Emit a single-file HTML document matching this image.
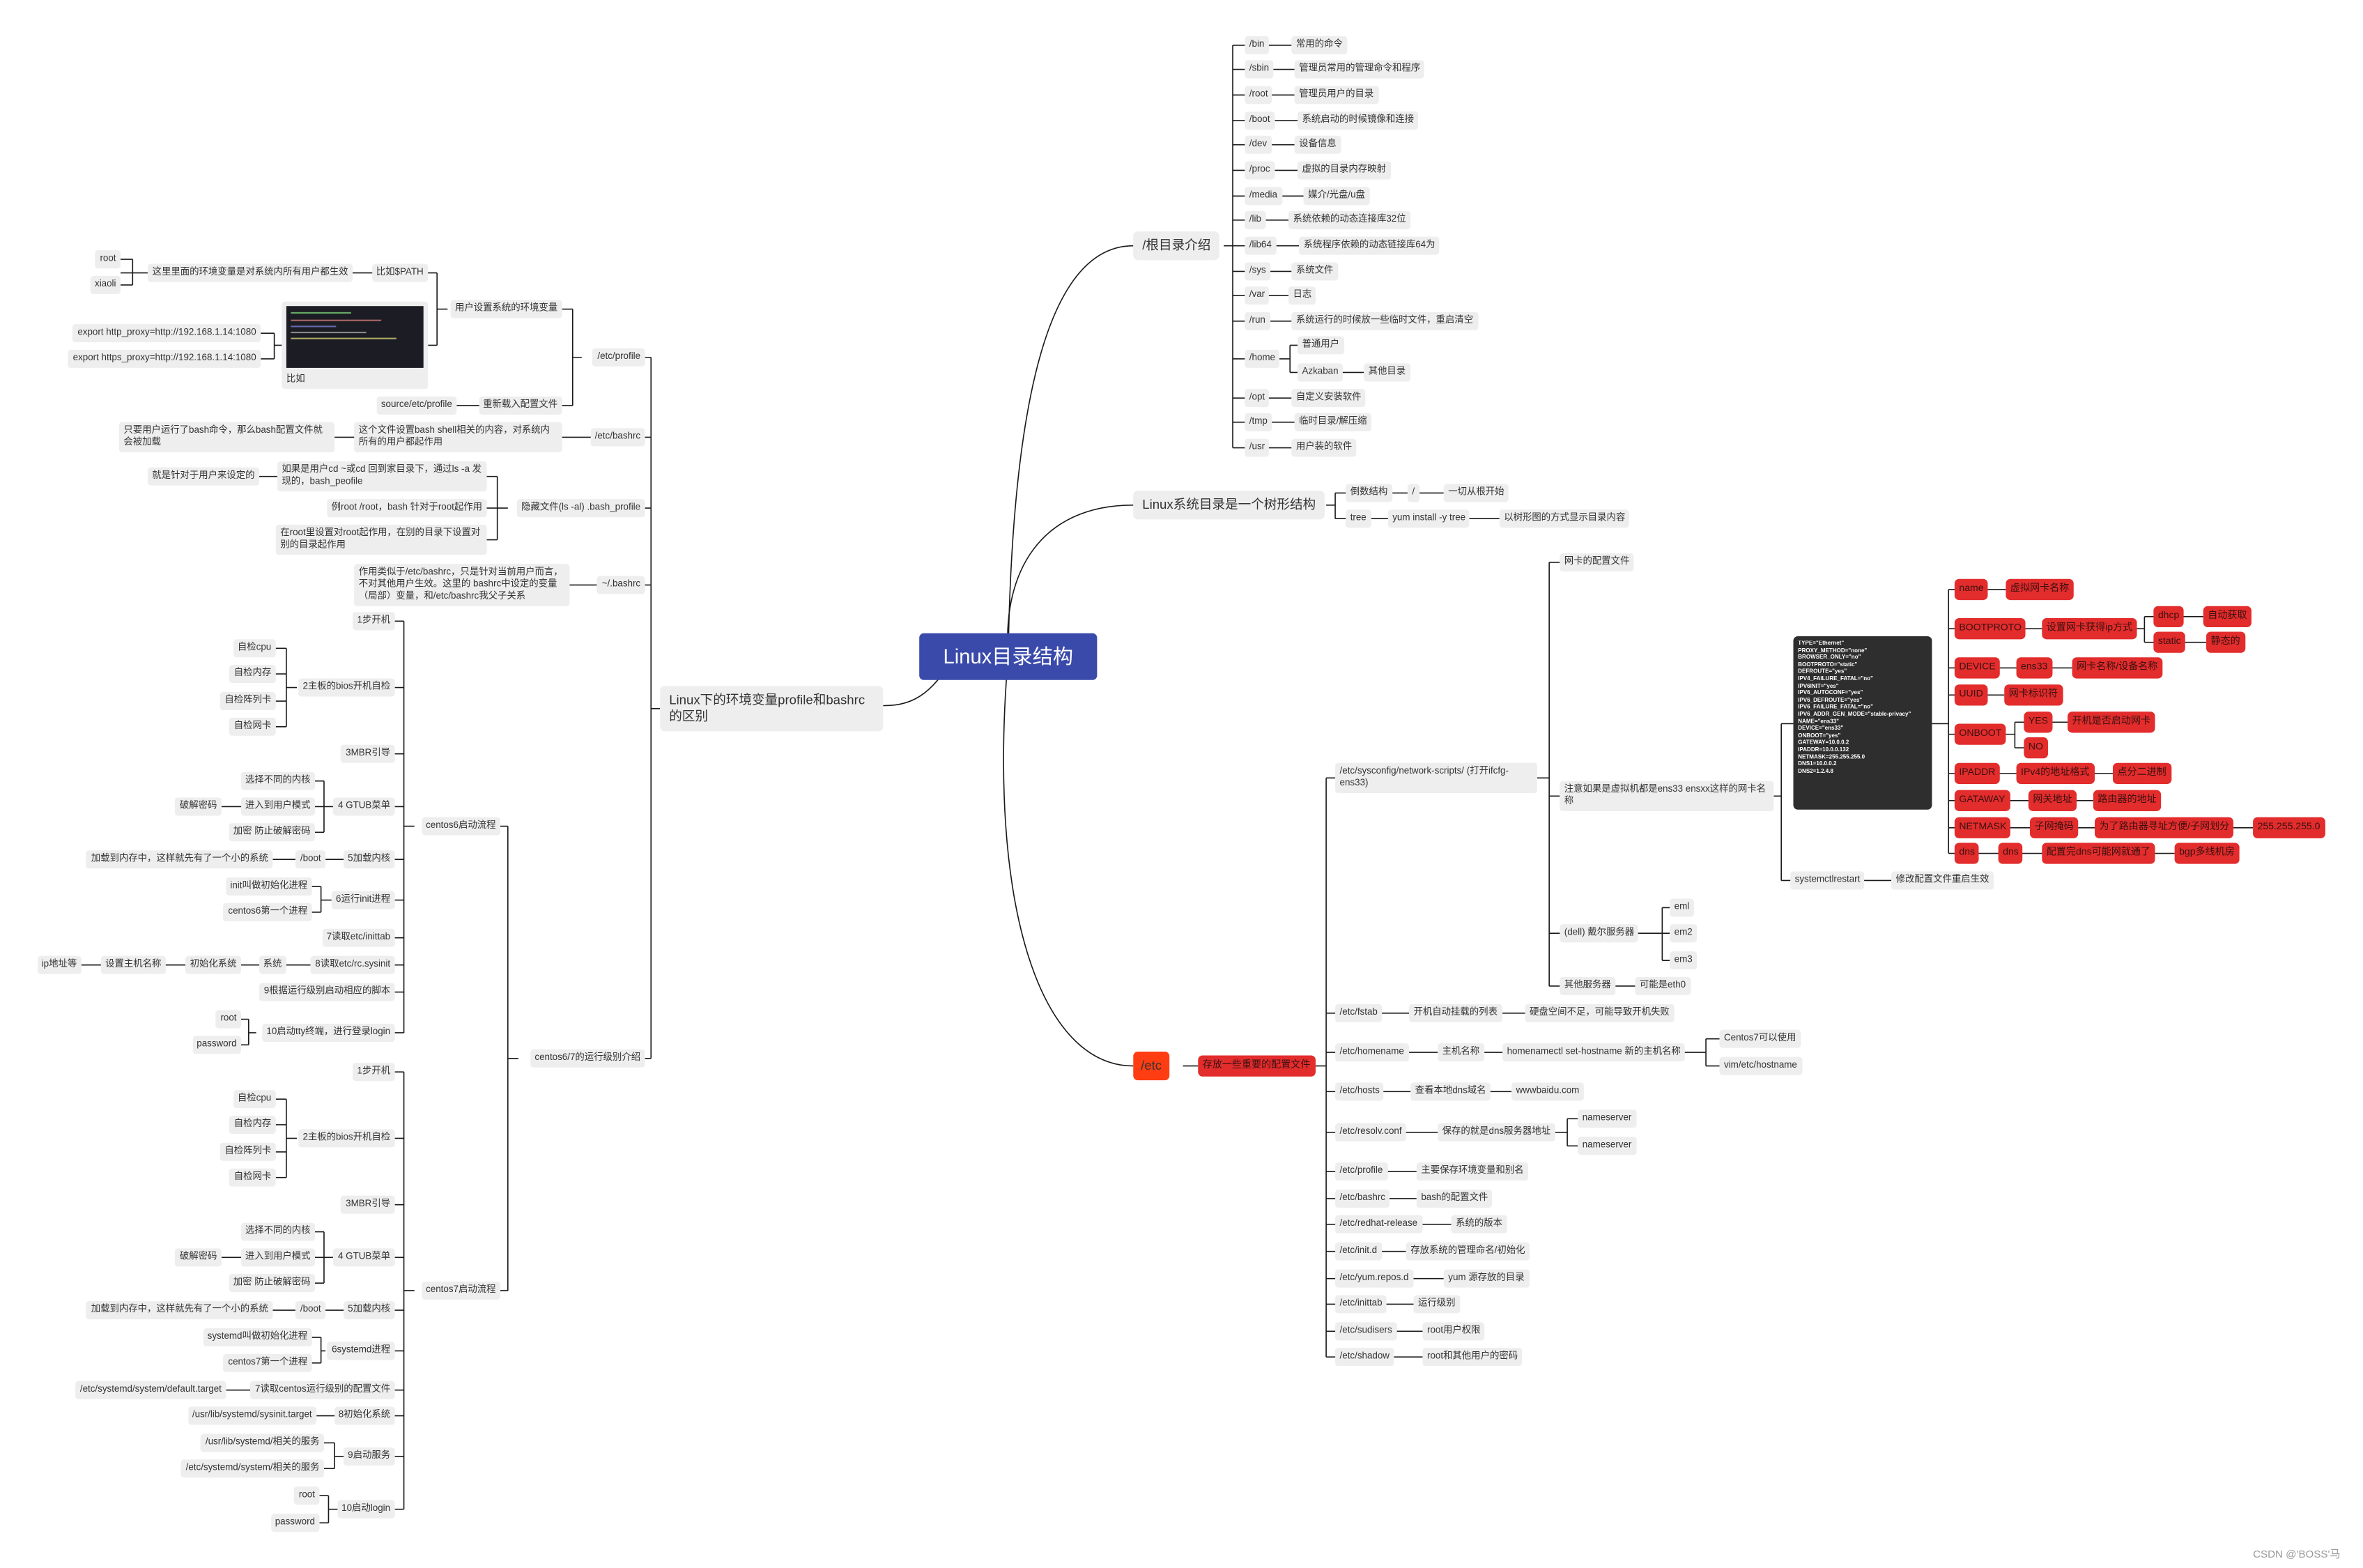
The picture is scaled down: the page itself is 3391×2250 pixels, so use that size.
<!DOCTYPE html>
<html><head><meta charset="utf-8">
<style>
html,body{margin:0;padding:0;background:#fff;width:3391px;height:2250px;overflow:hidden}
#c{position:absolute;left:0;top:0;width:1568px;height:1040px;transform:scale(2.1626,2.1635);transform-origin:0 0;font-family:"Liberation Sans","Noto Sans CJK SC",sans-serif}
.n{position:absolute;transform:translateY(-50%);white-space:nowrap;font-size:6.2px;line-height:8px;padding:2px 3px;border-radius:2px;color:#333}
.g{background:#eeeeee}
.r{background:#e32c2c;color:#3a1010;padding:3px 3px;border-radius:3px;font-size:6.5px}
.t{background:transparent}
.b{font-size:8.6px;line-height:11px;padding:4px 6px;border-radius:3px;background:#eeeeee;color:#333}
svg{position:absolute;left:0;top:0}
path{fill:none;stroke:#1a1a1a;stroke-width:0.75}
</style></head><body>
<div id="c">
<svg width="1568" height="1040" viewBox="0 0 1568 1040">
<path d="M669 435 C672 250,700 163,752 163"/>
<path d="M669 435 C665 380,690 335,752 335"/>
<path d="M669 435 C655 600,690 707,752 707"/>
<path d="M630 440 C615 465,600 468,586 468"/>
<path d="M812 163 H818 M818 30 V297 M818 30 H857 M818 46 H859 M818 63 H859 M818 80 H861 M818 96 H859 M818 113 H861 M818 130 H865 M818 146 H855 M818 163 H862 M818 180 H857 M818 196 H855 M818 213 H857 M818 238 H856 M856 229 V247 M856 229 H861 M856 247 H905 M818 264 H857 M818 280 H859 M818 297 H857"/>
<path d="M880 335 H886 M886 327 V344 M886 327 H958 M886 344 H995"/>
<path d="M785 707 H795 M873 707 H880 M880 516 V900 M880 516 H886 M880 672 H1012 M880 698 H1132 M1132 689 V707 M1132 689 H1141 M1132 707 H1141 M880 724 H1003 M880 751 H1040 M1040 742 V760 M1040 742 H1047 M1040 760 H1047 M880 777 H940 M880 795 H940 M880 812 H963 M880 830 H933 M880 848 H958 M880 865 H938 M880 883 H944 M880 900 H944"/>
<path d="M1020 516 H1028 M1028 373 V654 M1028 373 H1035 M1028 528 H1035 M1028 619 H1103 M1103 602 V637 M1103 602 H1108 M1103 619 H1108 M1103 637 H1108 M1028 654 H1085"/>
<path d="M1177 528 H1182 M1182 480 V584 M1182 480 H1190 M1182 584 H1255"/>
<path d="M1282 480 H1293 M1293 391 V566 M1293 391 H1331 M1293 417 H1423 M1423 409 V426 M1423 409 H1462 M1423 426 H1464 M1293 443 H1375 M1293 461 H1330 M1293 487 H1337 M1337 479 V496 M1337 479 H1372 M1337 496 H1343 M1293 513 H1402 M1293 531 H1389 M1293 549 H1495 M1293 566 H1443"/>
<path d="M438 470 H432 M432 237 V702 M432 237 H428 M432 290 H222 M432 337 H428 M432 388 H378 M432 702 H428"/>
<path d="M386 237 H380 M380 205 V269 M380 205 H373 M380 269 H303 M297 205 H290 M290 181 V229 M290 181 H80 M88 172 V189 M88 172 H80 M88 189 H80 M290 229 H284 M187 229 H182 M182 221 V238 M182 221 H173 M182 238 H173"/>
<path d="M337 337 H330 M330 316 V358 M330 316 H172 M330 337 H323 M330 358 H323"/>
<path d="M344 702 H337 M337 548 V856 M337 548 H332 M337 856 H332"/>
<path d="M275 548 H268 M268 412 V685 M268 412 H262 M268 456 H262 M268 500 H262 M268 535 H262 M268 570 H181 M268 597 H262 M268 622 H262 M268 640 H54 M268 658 H262 M268 685 H262 M197 456 H190 M190 430 V482 M190 430 H183 M190 447 H183 M190 465 H183 M190 482 H183 M222 535 H215 M215 518 V552 M215 518 H209 M215 535 H147 M215 552 H209 M220 597 H213 M213 588 V605 M213 588 H207 M213 605 H207 M170 685 H165 M165 676 V693 M165 676 H160 M165 693 H160"/>
<path d="M275 856 H268 M268 711 V1001 M268 711 H262 M268 755 H262 M268 799 H262 M268 834 H262 M268 869 H181 M268 896 H262 M268 922 H150 M268 939 H210 M268 966 H262 M268 1001 H262 M197 755 H190 M190 729 V781 M190 729 H183 M190 746 H183 M190 764 H183 M190 781 H183 M222 834 H215 M215 817 V851 M215 817 H209 M215 834 H147 M215 851 H209 M216 896 H213 M213 887 V904 M213 887 H207 M213 904 H207 M229 966 H222 M222 957 V974 M222 957 H215 M222 974 H215 M225 1001 H218 M218 992 V1010 M218 992 H212 M218 1010 H212"/>
</svg>

<div style="position:absolute;left:610px;top:420px;width:118px;height:31px;background:#3a4aab;border-radius:3px;color:#fff;font-size:13.5px;line-height:31px;text-align:center">Linux目录结构</div>

<div class="n b" style="left:752px;top:163px">/根目录介绍</div>
<div class="n b" style="left:752px;top:335px">Linux系统目录是一个树形结构</div>
<div class="n b" style="left:438px;top:470px;width:136px;white-space:normal">Linux下的环境变量profile和bashrc的区别</div>
<div class="n" style="left:752px;top:707px;background:#ff3d12;font-size:8.6px;line-height:11px;padding:4px 5px;border-radius:3px">/etc</div>
<div class="n r" style="left:795px;top:707px">存放一些重要的配置文件</div>

<div class="n g" style="left:826px;top:30px">/bin</div><div class="n g" style="left:857px;top:30px">常用的命令</div>
<div class="n g" style="left:826px;top:46px">/sbin</div><div class="n g" style="left:859px;top:46px">管理员常用的管理命令和程序</div>
<div class="n g" style="left:826px;top:63px">/root</div><div class="n g" style="left:859px;top:63px">管理员用户的目录</div>
<div class="n g" style="left:826px;top:80px">/boot</div><div class="n g" style="left:861px;top:80px">系统启动的时候镜像和连接</div>
<div class="n g" style="left:826px;top:96px">/dev</div><div class="n g" style="left:859px;top:96px">设备信息</div>
<div class="n g" style="left:826px;top:113px">/proc</div><div class="n g" style="left:861px;top:113px">虚拟的目录内存映射</div>
<div class="n g" style="left:826px;top:130px">/media</div><div class="n g" style="left:865px;top:130px">媒介/光盘/u盘</div>
<div class="n g" style="left:826px;top:146px">/lib</div><div class="n g" style="left:855px;top:146px">系统依赖的动态连接库32位</div>
<div class="n g" style="left:826px;top:163px">/lib64</div><div class="n g" style="left:862px;top:163px">系统程序依赖的动态链接库64为</div>
<div class="n g" style="left:826px;top:180px">/sys</div><div class="n g" style="left:857px;top:180px">系统文件</div>
<div class="n g" style="left:826px;top:196px">/var</div><div class="n g" style="left:855px;top:196px">日志</div>
<div class="n g" style="left:826px;top:213px">/run</div><div class="n g" style="left:857px;top:213px">系统运行的时候放一些临时文件，重启清空</div>
<div class="n g" style="left:826px;top:238px">/home</div><div class="n g" style="left:861px;top:229px">普通用户</div><div class="n g" style="left:861px;top:247px">Azkaban</div><div class="n g" style="left:905px;top:247px">其他目录</div>
<div class="n g" style="left:826px;top:264px">/opt</div><div class="n g" style="left:857px;top:264px">自定义安装软件</div>
<div class="n g" style="left:826px;top:280px">/tmp</div><div class="n g" style="left:859px;top:280px">临时目录/解压缩</div>
<div class="n g" style="left:826px;top:297px">/usr</div><div class="n g" style="left:857px;top:297px">用户装的软件</div>

<div class="n g" style="left:893px;top:327px">倒数结构</div><div class="n g" style="left:934px;top:327px">/</div><div class="n g" style="left:958px;top:327px">一切从根开始</div>
<div class="n g" style="left:893px;top:344px">tree</div><div class="n g" style="left:921px;top:344px">yum install -y tree</div><div class="n g" style="left:995px;top:344px">以树形图的方式显示目录内容</div>

<div class="n g" style="left:886px;top:516px;width:128px;white-space:normal">/etc/sysconfig/network-scripts/ (打开ifcfg-ens33)</div>
<div class="n g" style="left:1035px;top:373px">网卡的配置文件</div>
<div class="n g" style="left:1035px;top:528px;width:136px;white-space:normal">注意如果是虚拟机都是ens33 ensxx这样的网卡名称</div>
<div class="n g" style="left:1035px;top:619px">(dell) 戴尔服务器</div>
<div class="n g" style="left:1108px;top:602px">eml</div><div class="n g" style="left:1108px;top:619px">em2</div><div class="n g" style="left:1108px;top:637px">em3</div>
<div class="n g" style="left:1035px;top:654px">其他服务器</div><div class="n g" style="left:1085px;top:654px">可能是eth0</div>
<div class="n g" style="left:1188px;top:584px">systemctlrestart</div><div class="n g" style="left:1255px;top:584px">修改配置文件重启生效</div>
<div style="position:absolute;left:1190px;top:422px;width:92px;height:115px;background:#2e2e2e;border-radius:3px;overflow:hidden">
<div style="transform:scale(0.62);transform-origin:0 0;font-size:6px;line-height:7.6px;color:#fff;font-weight:bold;padding:5px;white-space:nowrap">TYPE="Ethernet"<br>PROXY_METHOD="none"<br>BROWSER_ONLY="no"<br>BOOTPROTO="static"<br>DEFROUTE="yes"<br>IPV4_FAILURE_FATAL="no"<br>IPV6INIT="yes"<br>IPV6_AUTOCONF="yes"<br>IPV6_DEFROUTE="yes"<br>IPV6_FAILURE_FATAL="no"<br>IPV6_ADDR_GEN_MODE="stable-privacy"<br>NAME="ens33"<br>DEVICE="ens33"<br>ONBOOT="yes"<br>GATEWAY=10.0.0.2<br>IPADDR=10.0.0.132<br>NETMASK=255.255.255.0<br>DNS1=10.0.0.2<br>DNS2=1.2.4.8</div></div>

<div class="n r" style="left:1297px;top:391px">name</div><div class="n r" style="left:1331px;top:391px">虚拟网卡名称</div>
<div class="n r" style="left:1297px;top:417px">BOOTPROTO</div><div class="n r" style="left:1355px;top:417px">设置网卡获得ip方式</div>
<div class="n r" style="left:1429px;top:409px">dhcp</div><div class="n r" style="left:1462px;top:409px">自动获取</div>
<div class="n r" style="left:1429px;top:426px">static</div><div class="n r" style="left:1464px;top:426px">静态的</div>
<div class="n r" style="left:1297px;top:443px">DEVICE</div><div class="n r" style="left:1338px;top:443px">ens33</div><div class="n r" style="left:1375px;top:443px">网卡名称/设备名称</div>
<div class="n r" style="left:1297px;top:461px">UUID</div><div class="n r" style="left:1330px;top:461px">网卡标识符</div>
<div class="n r" style="left:1297px;top:487px">ONBOOT</div><div class="n r" style="left:1343px;top:479px">YES</div><div class="n r" style="left:1372px;top:479px">开机是否启动网卡</div><div class="n r" style="left:1343px;top:496px">NO</div>
<div class="n r" style="left:1297px;top:513px">IPADDR</div><div class="n r" style="left:1338px;top:513px">IPv4的地址格式</div><div class="n r" style="left:1402px;top:513px">点分二进制</div>
<div class="n r" style="left:1297px;top:531px">GATAWAY</div><div class="n r" style="left:1346px;top:531px">网关地址</div><div class="n r" style="left:1389px;top:531px">路由器的地址</div>
<div class="n r" style="left:1297px;top:549px">NETMASK</div><div class="n r" style="left:1347px;top:549px">子网掩码</div><div class="n r" style="left:1390px;top:549px">为了路由器寻址方便/子网划分</div><div class="n r" style="left:1495px;top:549px">255.255.255.0</div>
<div class="n r" style="left:1297px;top:566px">dns</div><div class="n r" style="left:1326px;top:566px">dns</div><div class="n r" style="left:1355px;top:566px">配置完dns可能网就通了</div><div class="n r" style="left:1443px;top:566px">bgp多线机房</div>

<div class="n g" style="left:886px;top:672px">/etc/fstab</div><div class="n g" style="left:935px;top:672px">开机自动挂载的列表</div><div class="n g" style="left:1012px;top:672px">硬盘空间不足，可能导致开机失败</div>
<div class="n g" style="left:886px;top:698px">/etc/homename</div><div class="n g" style="left:954px;top:698px">主机名称</div><div class="n g" style="left:997px;top:698px">homenamectl set-hostname 新的主机名称</div>
<div class="n g" style="left:1141px;top:689px">Centos7可以使用</div><div class="n g" style="left:1141px;top:707px">vim/etc/hostname</div>
<div class="n g" style="left:886px;top:724px">/etc/hosts</div><div class="n g" style="left:936px;top:724px">查看本地dns域名</div><div class="n g" style="left:1003px;top:724px">wwwbaidu.com</div>
<div class="n g" style="left:886px;top:751px">/etc/resolv.conf</div><div class="n g" style="left:954px;top:751px">保存的就是dns服务器地址</div>
<div class="n g" style="left:1047px;top:742px">nameserver</div><div class="n g" style="left:1047px;top:760px">nameserver</div>
<div class="n g" style="left:886px;top:777px">/etc/profile</div><div class="n g" style="left:940px;top:777px">主要保存环境变量和别名</div>
<div class="n g" style="left:886px;top:795px">/etc/bashrc</div><div class="n g" style="left:940px;top:795px">bash的配置文件</div>
<div class="n g" style="left:886px;top:812px">/etc/redhat-release</div><div class="n g" style="left:963px;top:812px">系统的版本</div>
<div class="n g" style="left:886px;top:830px">/etc/init.d</div><div class="n g" style="left:933px;top:830px">存放系统的管理命名/初始化</div>
<div class="n g" style="left:886px;top:848px">/etc/yum.repos.d</div><div class="n g" style="left:958px;top:848px">yum 源存放的目录</div>
<div class="n g" style="left:886px;top:865px">/etc/inittab</div><div class="n g" style="left:938px;top:865px">运行级别</div>
<div class="n g" style="left:886px;top:883px">/etc/sudisers</div><div class="n g" style="left:944px;top:883px">root用户权限</div>
<div class="n g" style="left:886px;top:900px">/etc/shadow</div><div class="n g" style="left:944px;top:900px">root和其他用户的密码</div>

<div class="n g" style="right:1140px;top:237px">/etc/profile</div>
<div class="n g" style="right:1140px;top:290px">/etc/bashrc</div>
<div class="n g" style="right:1140px;top:337px">隐藏文件(ls -al) .bash_profile</div>
<div class="n g" style="right:1140px;top:388px">~/.bashrc</div>
<div class="n g" style="right:1140px;top:702px">centos6/7的运行级别介绍</div>
<div class="n g" style="right:1195px;top:205px">用户设置系统的环境变量</div>
<div class="n g" style="right:1195px;top:269px">重新载入配置文件</div>
<div class="n g" style="right:1265px;top:269px">source/etc/profile</div>
<div class="n g" style="right:1284px;top:181px">比如$PATH</div>
<div class="n g" style="right:1334px;top:181px">这里里面的环境变量是对系统内所有用户都生效</div>
<div class="n g" style="right:1488px;top:172px">root</div><div class="n g" style="right:1488px;top:189px">xiaoli</div>
<div style="position:absolute;left:187px;top:200px;width:97px;height:58px;background:#eee;border-radius:2px"></div>
<div style="position:absolute;left:190px;top:203px;width:91px;height:41px;background:#1c1c24"><div style="margin:4px 3px;height:1px;width:40px;background:#6a6"></div><div style="margin:3px 3px;height:1px;width:60px;background:#a66"></div><div style="margin:3px 3px;height:1px;width:30px;background:#66a"></div><div style="margin:3px 3px;height:1px;width:50px;background:#888"></div><div style="margin:3px 3px;height:1px;width:70px;background:#aa6"></div></div>
<div class="n t" style="left:187px;top:252px">比如</div>
<div class="n g" style="right:1395px;top:221px">export http_proxy=http://192.168.1.14:1080</div>
<div class="n g" style="right:1395px;top:238px">export https_proxy=http://192.168.1.14:1080</div>
<div class="n g" style="right:1195px;top:290px;width:132px;white-space:normal">这个文件设置bash shell相关的内容，对系统内所有的用户都起作用</div>
<div class="n g" style="right:1346px;top:290px;width:137px;white-space:normal">只要用户运行了bash命令，那么bash配置文件就会被加载</div>
<div class="n g" style="right:1245px;top:316px;width:133px;white-space:normal">如果是用户cd ~或cd 回到家目录下，通过ls -a 发现的，bash_peofile</div>
<div class="n g" style="right:1396px;top:316px">就是针对于用户来设定的</div>
<div class="n g" style="right:1245px;top:337px">例root /root，bash 针对于root起作用</div>
<div class="n g" style="right:1245px;top:358px;width:134px;white-space:normal">在root里设置对root起作用，在别的目录下设置对别的目录起作用</div>
<div class="n g" style="right:1190px;top:388px;width:137px;white-space:normal">作用类似于/etc/bashrc，只是针对当前用户而言，不对其他用户生效。这里的 bashrc中设定的变量（局部）变量，和/etc/bashrc我父子关系</div>
<div class="n g" style="right:1236px;top:548px">centos6启动流程</div>
<div class="n g" style="right:1236px;top:856px">centos7启动流程</div>

<div class="n g" style="right:1306px;top:412px">1步开机</div>
<div class="n g" style="right:1306px;top:456px">2主板的bios开机自检</div>
<div class="n g" style="right:1385px;top:430px">自检cpu</div><div class="n g" style="right:1385px;top:447px">自检内存</div><div class="n g" style="right:1385px;top:465px">自检阵列卡</div><div class="n g" style="right:1385px;top:482px">自检网卡</div>
<div class="n g" style="right:1306px;top:500px">3MBR引导</div>
<div class="n g" style="right:1306px;top:535px">4 GTUB菜单</div>
<div class="n g" style="right:1359px;top:518px">选择不同的内核</div><div class="n g" style="right:1359px;top:535px">进入到用户模式</div><div class="n g" style="right:1359px;top:552px">加密 防止破解密码</div>
<div class="n g" style="right:1421px;top:535px">破解密码</div>
<div class="n g" style="right:1306px;top:570px">5加载内核</div><div class="n g" style="right:1352px;top:570px">/boot</div><div class="n g" style="right:1387px;top:570px">加载到内存中，这样就先有了一个小的系统</div>
<div class="n g" style="right:1306px;top:597px">6运行init进程</div>
<div class="n g" style="right:1361px;top:588px">init叫做初始化进程</div><div class="n g" style="right:1361px;top:605px">centos6第一个进程</div>
<div class="n g" style="right:1306px;top:622px">7读取etc/inittab</div>
<div class="n g" style="right:1306px;top:640px">8读取etc/rc.sysinit</div><div class="n g" style="right:1378px;top:640px">系统</div><div class="n g" style="right:1408px;top:640px">初始化系统</div><div class="n g" style="right:1458px;top:640px">设置主机名称</div><div class="n g" style="right:1514px;top:640px">ip地址等</div>
<div class="n g" style="right:1306px;top:658px">9根据运行级别启动相应的脚本</div>
<div class="n g" style="right:1306px;top:685px">10启动tty终端，进行登录login</div>
<div class="n g" style="right:1408px;top:676px">root</div><div class="n g" style="right:1408px;top:693px">password</div>

<div class="n g" style="right:1306px;top:711px">1步开机</div>
<div class="n g" style="right:1306px;top:755px">2主板的bios开机自检</div>
<div class="n g" style="right:1385px;top:729px">自检cpu</div><div class="n g" style="right:1385px;top:746px">自检内存</div><div class="n g" style="right:1385px;top:764px">自检阵列卡</div><div class="n g" style="right:1385px;top:781px">自检网卡</div>
<div class="n g" style="right:1306px;top:799px">3MBR引导</div>
<div class="n g" style="right:1306px;top:834px">4 GTUB菜单</div>
<div class="n g" style="right:1359px;top:817px">选择不同的内核</div><div class="n g" style="right:1359px;top:834px">进入到用户模式</div><div class="n g" style="right:1359px;top:851px">加密 防止破解密码</div>
<div class="n g" style="right:1421px;top:834px">破解密码</div>
<div class="n g" style="right:1306px;top:869px">5加载内核</div><div class="n g" style="right:1352px;top:869px">/boot</div><div class="n g" style="right:1387px;top:869px">加载到内存中，这样就先有了一个小的系统</div>
<div class="n g" style="right:1306px;top:896px">6systemd进程</div>
<div class="n g" style="right:1361px;top:887px">systemd叫做初始化进程</div><div class="n g" style="right:1361px;top:904px">centos7第一个进程</div>
<div class="n g" style="right:1306px;top:922px">7读取centos运行级别的配置文件</div><div class="n g" style="right:1418px;top:922px">/etc/systemd/system/default.target</div>
<div class="n g" style="right:1306px;top:939px">8初始化系统</div><div class="n g" style="right:1358px;top:939px">/usr/lib/systemd/sysinit.target</div>
<div class="n g" style="right:1306px;top:966px">9启动服务</div>
<div class="n g" style="right:1353px;top:957px">/usr/lib/systemd/相关的服务</div><div class="n g" style="right:1353px;top:974px">/etc/systemd/system/相关的服务</div>
<div class="n g" style="right:1306px;top:1001px">10启动login</div>
<div class="n g" style="right:1356px;top:992px">root</div><div class="n g" style="right:1356px;top:1010px">password</div>

<div class="n t" style="left:1492px;top:1032px;color:#999;font-size:7px">CSDN @'BOSS'马</div>
</div>
</body></html>
